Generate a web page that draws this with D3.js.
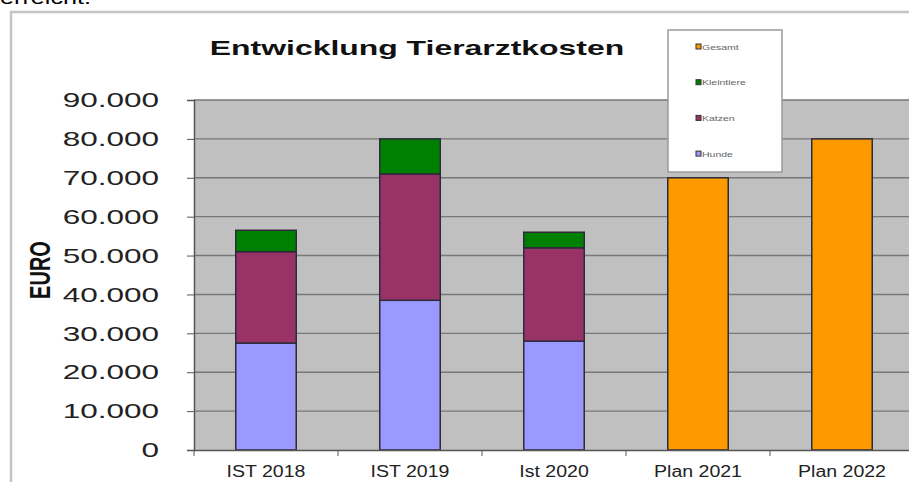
<!DOCTYPE html>
<html>
<head>
<meta charset="utf-8">
<script src="https://cdn.jsdelivr.net/npm/d3@7"></script>
<style>
  body { margin: 0; background: #fff; }
  svg { display: block; font-family: "Liberation Sans", Arial, sans-serif; }
</style>
</head>
<body>
<div id="chart"></div>
<script>
// data
const categories = ["IST 2018", "IST 2019", "Ist 2020", "Plan 2021", "Plan 2022"];
const hunde = [27500, 38500, 28000, 0, 0];
const katzen = [23500, 32500, 24000, 0, 0];
const kleintiere = [5500, 9000, 4000, 0, 0];
const gesamt = [0, 0, 0, 70000, 80000];
const seriesNames = ["Hunde", "Katzen", "Kleintiere", "Gesamt"];
const yTicks = [0, 10000, 20000, 30000, 40000, 50000, 60000, 70000, 80000, 90000];
const legendOrder = ["Gesamt", "Kleintiere", "Katzen", "Hunde"];

const colors = { Hunde: "#9999ff", Katzen: "#993366", Kleintiere: "#008000", Gesamt: "#ff9900" };

const width = 909, height = 482;
const plotLeft = 194, plotRight = 914, plotTop = 100, plotBottom = 450;

const rows = categories.map((c, i) => ({
  cat: c, Hunde: hunde[i], Katzen: katzen[i], Kleintiere: kleintiere[i], Gesamt: gesamt[i]
}));

const svg = d3.select("#chart").append("svg")
  .attr("width", width)
  .attr("height", height);

// stretch text horizontally, the source image is wider than normal
function stretch(sel, f) {
  sel.each(function () {
    const w = this.getComputedTextLength();
    d3.select(this).attr("textLength", w * f).attr("lengthAdjust", "spacingAndGlyphs");
  });
}

// text from the page above, cut off at the top
svg.append("text").attr("x", 0).attr("y", 4)
  .style("font-size", "18px").attr("fill", "#000")
  .text("erreicht.")
  .call(stretch, 1.4);

// chart frame
svg.append("path")
  .attr("d", `M11,${height} V12 H${width}`)
  .attr("fill", "none").attr("stroke", "#c4c4c4").attr("stroke-width", 2.5);

const x = d3.scaleBand().domain(categories)
  .range([plotLeft, plotRight])
  .paddingInner(0.58).paddingOuter(0.29);

const y = d3.scaleLinear().domain([0, 90000]).range([plotBottom, plotTop]);

// plot background
svg.append("rect")
  .attr("x", plotLeft).attr("y", plotTop)
  .attr("width", plotRight - plotLeft).attr("height", plotBottom - plotTop)
  .attr("fill", "#c0c0c0");

// gridlines
svg.append("g").selectAll("line").data(yTicks.slice(1)).join("line")
  .attr("x1", plotLeft).attr("x2", plotRight)
  .attr("y1", d => y(d)).attr("y2", d => y(d))
  .attr("stroke", "#777").attr("stroke-width", 1.4);

// stacked bars
const stacked = d3.stack().keys(seriesNames)(rows);
svg.append("g").selectAll("g").data(stacked).join("g")
  .attr("fill", d => colors[d.key])
  .selectAll("rect")
  .data(d => d.filter(s => s[1] - s[0] > 0))
  .join("rect")
  .attr("x", d => x(d.data.cat))
  .attr("y", d => y(d[1]))
  .attr("width", x.bandwidth())
  .attr("height", d => y(d[0]) - y(d[1]))
  .attr("stroke", "#2b2b3a").attr("stroke-width", 1.5);

// y axis
const yAxis = svg.append("g")
  .attr("transform", `translate(${plotLeft},0)`)
  .call(d3.axisLeft(y).tickValues(yTicks).tickSize(7).tickPadding(28)
    .tickFormat(d => d3.format(",")(d).replace(/,/g, ".")));
yAxis.select(".domain").attr("stroke", "#555").attr("stroke-width", 1.5);
yAxis.selectAll(".tick line").attr("stroke", "#555");
yAxis.selectAll("text")
  .style("font-size", "21px").attr("fill", "#222")
  .call(stretch, 1.5);

// x axis
const xAxis = svg.append("g")
  .attr("transform", `translate(0,${plotBottom})`)
  .call(d3.axisBottom(x).tickSize(0).tickPadding(16));
xAxis.select(".domain").attr("stroke", "#555").attr("stroke-width", 1.5);
xAxis.selectAll("text")
  .style("font-size", "16px").attr("fill", "#222")
  .call(stretch, 1.22);
// boundary ticks
xAxis.append("g").selectAll("line")
  .data(d3.range(categories.length + 1))
  .join("line")
  .attr("x1", i => plotLeft + i * x.step()).attr("x2", i => plotLeft + i * x.step())
  .attr("y1", 0).attr("y2", 6)
  .attr("stroke", "#555");

// title
svg.append("text")
  .attr("x", 417).attr("y", 55)
  .attr("text-anchor", "middle")
  .style("font-size", "21px").style("font-weight", "bold")
  .attr("fill", "#111")
  .text("Entwicklung Tierarztkosten")
  .call(stretch, 1.52);

// y label
svg.append("text")
  .attr("transform", "translate(50,270) scale(1.5,1) rotate(-90)")
  .attr("text-anchor", "middle")
  .style("font-size", "20px").style("font-weight", "bold")
  .attr("fill", "#111")
  .text("EURO");

// legend
const legend = svg.append("g").attr("transform", "translate(668,30)");
legend.append("rect")
  .attr("width", 114).attr("height", 142)
  .attr("fill", "#fff").attr("stroke", "#9a9a9a").attr("stroke-width", 1.5);
const item = legend.selectAll("g.item").data(legendOrder).join("g")
  .attr("class", "item")
  .attr("transform", (d, i) => `translate(28,${17 + i * 35.7})`);
item.append("rect")
  .attr("x", 0).attr("y", -3).attr("width", 5).attr("height", 5)
  .attr("fill", d => colors[d]).attr("stroke", "#333").attr("stroke-width", 1);
item.append("text")
  .attr("x", 6).attr("y", 2.5)
  .style("font-size", "7px").attr("fill", "#666")
  .text(d => d)
  .call(stretch, 1.5);
</script>
</body>
</html>
